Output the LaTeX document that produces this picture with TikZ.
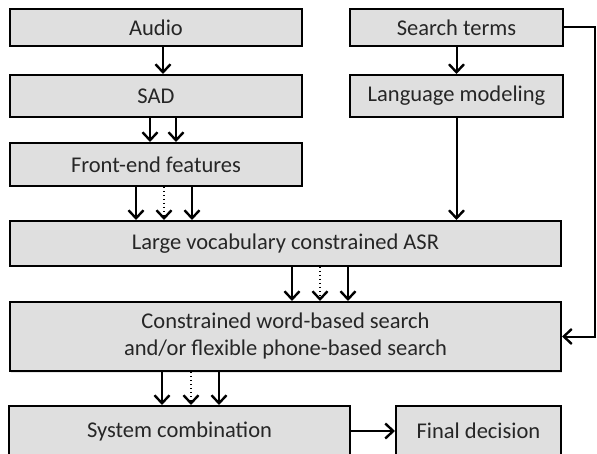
\documentclass[tikz,border=0pt]{standalone}
\usepackage{fontspec}
\setmainfont{Carlito}
\usetikzlibrary{arrows.meta,shadows}

\begin{document}
\begin{tikzpicture}[
    x=1pt, y=-1pt,
    >={Straight Barb[length=8pt,width=15pt,line width=2.4pt]},
    block/.style={draw=black, line width=2pt, fill=gray!25, text=black!85,
        font=\fontsize{22.5}{27}\selectfont,
        inner sep=0pt, align=center,
        drop shadow={shadow xshift=1.2pt, shadow yshift=-1.5pt, opacity=0.2}},
    flow/.style={->, line width=2pt},
    dflow/.style={->, line width=1.6pt, dash pattern=on 1pt off 3pt}
]
\useasboundingbox (0,0) rectangle (597,454);

% Left column
\node[block, minimum width=292pt, minimum height=37pt] (audio) at (156, 27.5) {Audio};
\node[block, minimum width=292pt, minimum height=42pt] (sad) at (156, 96) {SAD};
\node[block, minimum width=292pt, minimum height=43pt] (feat) at (156, 164.5) {Front-end features};

% Right column
\node[block, minimum width=213pt, minimum height=37pt] (terms) at (456.5, 27.5) {Search terms};
\node[block, minimum width=213pt, minimum height=42pt] (lm) at (456.5, 96) {Language modeling};

% Wide stages
\node[block, minimum width=551pt, minimum height=45pt] (asr) at (285.5, 243.5) {Large vocabulary constrained ASR};
\node[block, minimum width=551pt, minimum height=69pt] (search) at (285.5, 336.5) {Constrained word-based search\\and/or flexible phone-based search};

% Bottom row
\node[block, minimum width=341pt, minimum height=50pt] (comb) at (179.5, 431) {System combination};
\node[block, minimum width=165pt, minimum height=50pt] (final) at (478.5, 431) {Final decision};

% Connectors
\draw[flow] ([xshift=7pt]audio.south) -- ([xshift=7pt]sad.north);
\draw[flow] ([xshift=-6pt]sad.south) -- ([xshift=-6pt]feat.north);
\draw[flow] ([xshift=20pt]sad.south) -- ([xshift=20pt]feat.north);
\draw[flow] (terms) -- (lm);

\draw[flow] ([xshift=-20pt]feat.south) -- ([xshift=-20pt]feat.south |- asr.north);
\draw[dflow] ([xshift=8pt]feat.south) -- ([xshift=8pt]feat.south |- asr.north);
\draw[flow] ([xshift=36pt]feat.south) -- ([xshift=36pt]feat.south |- asr.north);
\draw[flow] (lm.south) -- (lm.south |- asr.north);

\draw[flow] ([xshift=6.5pt]asr.south) -- ([xshift=6.5pt]search.north);
\draw[dflow] ([xshift=34.5pt]asr.south) -- ([xshift=34.5pt]search.north);
\draw[flow] ([xshift=62.5pt]asr.south) -- ([xshift=62.5pt]search.north);

\draw[flow] ([xshift=-17.5pt]comb.north |- search.south) -- ([xshift=-17.5pt]comb.north);
\draw[dflow] ([xshift=11.5pt]comb.north |- search.south) -- ([xshift=11.5pt]comb.north);
\draw[flow] ([xshift=39.5pt]comb.north |- search.south) -- ([xshift=39.5pt]comb.north);

\draw[flow] (comb.east |- final.west) -- (final.west);

% Search terms feed the search stage directly
\coordinate (bend) at (595, 336.5);
\draw[flow] (terms.east) -- (terms.east -| bend) -- (bend) -- (search.east);

\end{tikzpicture}
\end{document}
